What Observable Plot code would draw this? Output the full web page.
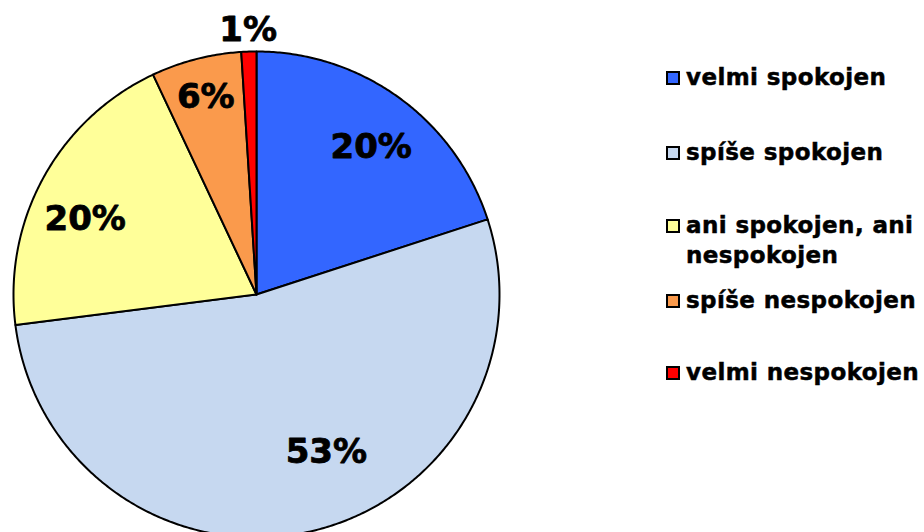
<!DOCTYPE html>
<html><head><meta charset="utf-8">
<script src="https://cdn.jsdelivr.net/npm/d3@7"></script>
<script src="https://cdn.jsdelivr.net/npm/@observablehq/plot@0.6"></script>
<style>
body{margin:0;background:#fff;font-family:"DejaVu Sans",Verdana,sans-serif;}
#wrap{position:relative;width:924px;height:532px;overflow:hidden;}
.leg{position:absolute;left:666px;font-weight:bold;font-size:23px;line-height:30px;color:#000;white-space:nowrap;letter-spacing:0.4px;-webkit-text-stroke:0.5px #000;}
.sw{position:absolute;left:0;top:9px;width:10px;height:10px;border:2px solid #000;-webkit-text-stroke:0;}
.lt{position:absolute;left:20px;top:0;}
</style></head><body><div id="wrap"></div>
<script>
const categories = ["velmi spokojen","spíše spokojen","ani spokojen, ani nespokojen","spíše nespokojen","velmi nespokojen"];
const legendLines = [["velmi spokojen"],["spíše spokojen"],["ani spokojen, ani","nespokojen"],["spíše nespokojen"],["velmi nespokojen"]];
const values = [20,53,20,6,1];
const labels = ["20%","53%","20%","6%","1%"];
const colors = ["#3366FF","#C6D8F0","#FFFF99","#FA9A4C","#FF0000"];

// label placement (style): angle offset in degrees from slice middle, radius fraction
const labelPlace = [[1.8,0.77],[-11.3,0.71],[-5.1,0.77],[0,0.84],[0,1.09]];

const total = d3.sum(values);
let acc = 0;
const slices = values.map((v,i)=>{ const a0 = acc/total*2*Math.PI; acc += v; const a1 = acc/total*2*Math.PI; return {cat:categories[i], a0, a1, i}; });

const marks = [];
slices.forEach(s=>{
  const pts = [{x:0,y:0}];
  const n = Math.max(4, Math.ceil((s.a1-s.a0)/(Math.PI/360)));
  for(let k=0;k<=n;k++){ const a = s.a0 + (s.a1-s.a0)*k/n; pts.push({x:Math.sin(a), y:Math.cos(a)}); }
  pts.push({x:0,y:0});
  marks.push(Plot.line(pts,{x:"x",y:"y",fill:colors[s.i],stroke:"#000",strokeWidth:2,strokeLinejoin:"round",curve:"linear"}));
});
const labelData = slices.map(s=>{ const [off,r] = labelPlace[s.i]; const a = (s.a0+s.a1)/2 + off*Math.PI/180; return {x:r*Math.sin(a), y:r*Math.cos(a), t:labels[s.i]}; });
marks.push(Plot.text(labelData,{x:"x",y:"y",text:"t",fontSize:34,fontWeight:"bold",fill:"#000",stroke:"#000",strokeWidth:0.8,fontFamily:"DejaVu Sans"}));

const chart = Plot.plot({
  width:924, height:532, margin:0,
  style:{background:"transparent",overflow:"visible"},
  x:{domain:[-1,1], range:[13,499], axis:null},
  y:{domain:[-1,1], range:[537,51], axis:null},
  marks
});
chart.style.position="absolute"; chart.style.left="0"; chart.style.top="0";
const wrap = document.getElementById("wrap");
wrap.appendChild(chart);

const legTops = [62,137,210,285,357];
legendLines.forEach((lines,i)=>{
  const d = document.createElement("div");
  d.className="leg"; d.style.top = legTops[i]+"px";
  d.innerHTML = `<div class="sw" style="background:${colors[i]}"></div><div class="lt">${lines.join("<br>")}</div>`;
  wrap.appendChild(d);
});
</script></body></html>
